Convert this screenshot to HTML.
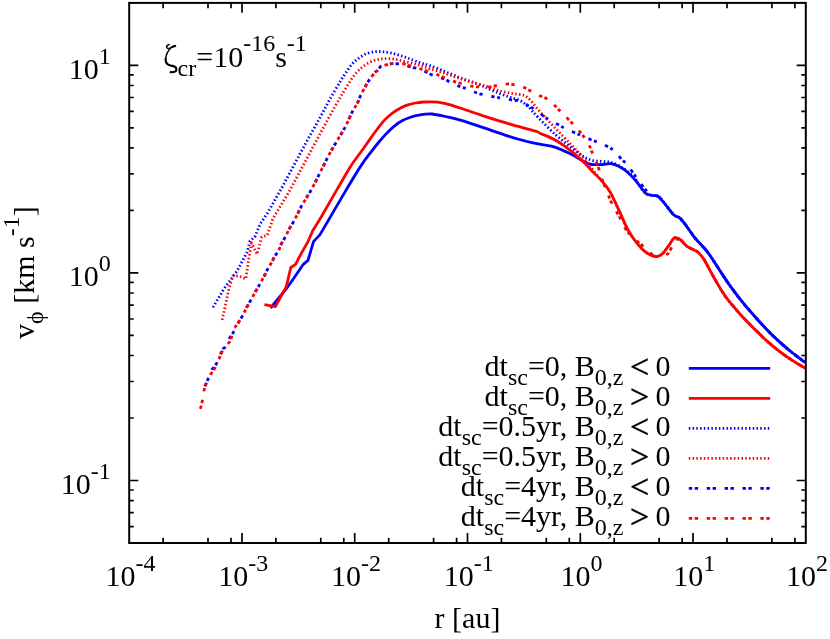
<!DOCTYPE html><html><head><meta charset="utf-8"><title>plot</title><style>html,body{margin:0;padding:0;background:#fff}svg{display:block;will-change:transform}text{font-family:"Liberation Serif",serif;fill:#000}</style></head><body>
<svg width="830" height="639" viewBox="0 0 830 639">
<rect width="830" height="639" fill="#fff"/>
<path d="M270.6,308.0L285.8,289.4L292.6,280.0L303.3,264.3L308.0,260.4L313.5,241.6L320.0,234.6L346.5,189.4C353.4,177.8 357.0,171.7 361.4,165.1C365.8,158.5 369.8,153.7 372.7,149.8C375.6,146.0 376.6,144.7 378.9,142.0C381.2,139.3 384.0,136.1 386.6,133.4C389.2,130.8 391.7,128.2 394.3,126.1C396.9,124.0 399.4,122.2 402.0,120.8C404.6,119.4 407.2,118.4 409.8,117.5C412.4,116.6 414.9,115.8 417.5,115.3C420.1,114.8 422.8,114.4 425.2,114.2C427.6,114.0 428.6,113.6 432.0,114.0C435.4,114.4 440.7,115.4 445.6,116.5C450.5,117.6 454.8,118.5 461.3,120.4C467.8,122.4 477.0,125.6 484.8,128.2C492.6,130.8 501.2,133.9 508.2,136.1C515.2,138.3 521.7,140.2 527.0,141.5C532.3,142.8 535.2,143.2 540.0,144.2C544.8,145.2 550.4,145.6 555.6,147.3C560.8,149.0 566.6,152.0 571.3,154.3C576.0,156.7 580.4,159.7 583.8,161.4C587.2,163.1 588.5,164.0 591.6,164.5C594.7,165.0 599.5,164.6 602.6,164.5C605.7,164.4 607.8,163.4 610.4,163.7C613.0,164.0 615.3,164.7 618.2,166.1C621.1,167.5 624.5,169.6 627.6,172.3C630.7,175.0 633.9,178.7 636.9,182.2C639.9,185.7 643.0,191.0 645.6,193.2C648.2,195.4 650.5,195.0 652.6,195.5C654.7,196.0 656.0,194.9 658.1,196.3C660.2,197.7 662.5,201.0 665.1,204.1C667.7,207.2 671.2,212.5 673.7,214.8C676.2,217.2 677.8,216.2 680.0,218.2C682.2,220.2 684.5,223.5 687.0,226.8C689.5,230.1 691.5,233.6 694.9,237.8C698.3,242.0 703.6,246.9 707.5,252.0C711.4,257.1 714.9,263.0 718.5,268.5C722.1,274.0 725.4,279.3 729.4,284.9C733.4,290.5 738.2,296.9 742.5,302.2C746.8,307.5 750.8,312.0 755.0,316.7C759.2,321.4 763.4,326.1 767.6,330.4C771.8,334.7 775.9,338.6 780.1,342.4C784.3,346.2 788.4,349.7 792.6,353.0C796.8,356.3 803.0,360.8 805.1,362.4" fill="none" stroke="#0000ff" stroke-width="2.8" stroke-linejoin="round"/>
<path d="M264.4,304.7L275.4,306.7L286.3,286.6L290.8,267.5L295.5,264.3L301.7,252.6L308.0,241.6L312.7,230.7L320.0,219.0L337.1,189.4C342.2,180.7 346.2,173.3 350.4,166.7C354.6,160.1 359.4,154.2 362.5,149.8C365.6,145.4 366.9,143.5 369.3,140.1C371.7,136.7 374.4,132.9 377.0,129.5C379.6,126.1 382.1,122.6 384.7,119.9C387.3,117.2 389.8,115.0 392.4,113.1C395.0,111.2 397.5,109.7 400.1,108.3C402.7,106.9 405.2,105.8 407.8,104.9C410.4,104.0 412.9,103.5 415.5,103.0C418.1,102.5 420.9,102.2 423.3,102.0C425.7,101.8 427.6,101.8 430.0,101.8C432.4,101.8 434.4,101.7 437.8,102.2C441.2,102.7 445.1,103.3 450.3,104.8C455.5,106.3 462.1,108.7 469.1,111.0C476.2,113.3 484.8,116.4 492.6,118.9C500.4,121.4 508.8,123.8 516.1,125.9C523.4,128.0 532.4,130.2 536.4,131.4C540.4,132.6 536.8,131.7 540.0,133.2C543.2,134.7 550.4,137.3 555.6,140.3C560.8,143.3 566.6,147.5 571.3,151.2C576.0,154.8 580.1,158.7 583.8,162.2C587.4,165.7 590.3,169.4 593.2,172.3C596.1,175.2 598.1,176.6 601.0,179.9C603.9,183.2 607.2,187.1 610.3,192.4C613.4,197.7 616.8,205.8 619.7,211.9C622.6,218.0 624.7,224.0 627.6,229.2C630.5,234.4 633.8,239.3 636.9,243.2C640.0,247.1 643.2,250.4 646.3,252.6C649.4,254.8 653.1,256.2 655.7,256.5C658.3,256.8 659.9,255.9 662.0,254.2C664.1,252.5 666.1,249.1 668.2,246.4C670.3,243.7 672.4,238.9 674.5,237.8C676.6,236.8 678.7,238.7 680.8,240.1C682.9,241.5 684.4,244.6 687.0,246.4C689.6,248.2 694.4,250.0 696.4,251.1C698.4,252.2 697.5,251.7 698.8,253.1C700.1,254.5 702.0,256.2 704.2,259.7C706.4,263.2 708.8,268.4 711.9,273.9C715.0,279.4 719.8,287.9 722.8,292.6C725.8,297.3 726.7,298.3 730.0,302.3C733.3,306.3 738.3,312.2 742.5,316.7C746.7,321.2 750.8,325.4 755.0,329.5C759.2,333.6 763.4,337.9 767.6,341.6C771.8,345.3 775.9,348.7 780.1,351.9C784.3,355.1 788.4,357.9 792.6,360.6C796.8,363.3 803.0,366.8 805.1,368.0" fill="none" stroke="#ff0000" stroke-width="2.8" stroke-linejoin="round"/>
<path d="M213.0,307.4L223.9,288.8L236.8,271.4L246.9,252.6L250.1,240.9L254.8,236.9L260.3,223.6L267.3,213.5L280.6,190.0L306.6,141.6L320.0,117.6L330.0,99.0C333.3,93.0 337.4,86.3 340.0,81.9C342.6,77.5 343.7,75.8 345.8,72.8C347.9,69.8 350.2,66.1 352.5,63.6C354.8,61.1 356.9,59.5 359.3,57.8C361.7,56.1 364.3,54.5 367.0,53.5C369.7,52.5 373.0,51.9 375.7,51.6C378.4,51.3 380.8,51.6 383.4,51.8C386.0,52.0 388.4,52.4 391.1,53.0C393.8,53.6 396.9,54.5 399.8,55.4C402.7,56.3 405.0,57.1 408.4,58.3C411.8,59.5 416.4,61.5 420.0,62.7C423.6,63.9 425.7,64.1 430.0,65.6C434.3,67.1 440.4,69.8 445.6,71.9C450.8,74.0 456.1,76.2 461.3,78.2C466.5,80.2 472.2,81.8 476.9,83.6C481.6,85.4 485.6,87.4 489.5,89.1C493.4,90.8 496.8,92.4 500.4,93.8C504.0,95.2 508.0,96.5 511.4,97.7C514.8,98.9 517.9,99.3 520.8,100.9C523.7,102.5 525.7,104.4 528.6,107.1C531.5,109.8 533.5,112.7 538.0,117.3C542.5,121.9 550.1,129.8 555.6,134.8C561.1,139.8 566.6,143.7 571.3,147.3C576.0,151.0 580.1,154.5 583.8,156.7C587.4,158.9 590.1,159.8 593.2,160.6C596.3,161.4 599.7,161.1 602.6,161.4C605.5,161.7 607.8,161.5 610.4,162.2C613.0,162.8 615.3,163.8 618.2,165.3C621.1,166.9 624.7,169.3 627.6,171.5C630.5,173.7 634.0,176.8 635.5,178.6C637.0,180.4 635.2,179.8 636.9,182.2C638.6,184.6 643.0,191.0 645.6,193.2C648.2,195.4 650.5,195.0 652.6,195.5C654.7,196.0 656.0,194.9 658.1,196.3C660.2,197.7 662.5,201.0 665.1,204.1C667.7,207.2 671.2,212.5 673.7,214.8C676.2,217.2 677.8,216.2 680.0,218.2C682.2,220.2 684.5,223.5 687.0,226.8C689.5,230.1 691.5,233.6 694.9,237.8C698.3,242.0 703.6,246.9 707.5,252.0C711.4,257.1 714.9,263.0 718.5,268.5C722.1,274.0 725.4,279.3 729.4,284.9C733.4,290.5 738.2,296.9 742.5,302.2C746.8,307.5 750.8,312.0 755.0,316.7C759.2,321.4 763.4,326.1 767.6,330.4C771.8,334.7 775.9,338.6 780.1,342.4C784.3,346.2 788.4,349.7 792.6,353.0C796.8,356.3 803.0,360.8 805.1,362.4" fill="none" stroke="#0000ff" stroke-width="2.8" stroke-linejoin="round" stroke-dasharray="1.5,2.26"/>
<path d="M222.2,320.0L226.1,301.9L229.0,288.6L232.9,275.8L239.1,276.1L245.9,278.9L248.5,260.4L251.6,243.2L257.1,254.2L261.8,236.9L267.3,235.4L272.8,219.0L290.0,190.0L317.6,138.5L330.0,115.5C333.7,108.7 337.4,102.3 340.0,97.8C342.6,93.2 343.9,91.3 345.8,88.2C347.7,85.1 349.7,81.7 351.6,79.0C353.5,76.3 355.4,73.9 357.3,71.8C359.2,69.7 361.0,68.1 363.1,66.5C365.2,64.9 367.6,63.3 369.9,62.2C372.1,61.1 374.4,60.4 376.6,59.8C378.9,59.2 381.0,59.0 383.4,58.8C385.8,58.6 388.7,58.6 391.1,58.8C393.5,59.0 395.4,59.3 397.8,59.8C400.2,60.3 402.9,61.1 405.5,61.7C408.1,62.3 410.9,63.0 413.3,63.6C415.7,64.2 417.2,64.6 420.0,65.5C422.8,66.4 425.7,67.5 430.0,68.8C434.3,70.1 440.4,71.8 445.6,73.5C450.8,75.2 456.1,77.3 461.3,79.0C466.5,80.7 472.2,82.2 476.9,83.6C481.6,85.0 485.6,86.0 489.5,87.2C493.4,88.4 496.5,90.0 500.4,91.0C504.3,92.0 509.0,92.8 512.9,93.5C516.8,94.2 521.0,94.3 523.9,95.4C526.8,96.5 527.9,97.8 530.2,100.1C532.6,102.4 533.8,104.8 538.0,109.5C542.2,114.2 550.1,122.6 555.6,128.5C561.1,134.4 566.8,140.2 571.3,144.9C575.8,149.6 579.2,153.2 582.3,156.7C585.4,160.2 587.2,162.4 590.1,166.1C593.0,169.8 597.7,176.3 599.5,178.6C601.3,180.9 599.2,177.6 601.0,179.9C602.8,182.2 607.2,187.1 610.3,192.4C613.4,197.7 616.8,205.8 619.7,211.9C622.6,218.0 624.7,224.0 627.6,229.2C630.5,234.4 633.8,239.3 636.9,243.2C640.0,247.1 643.2,250.4 646.3,252.6C649.4,254.8 653.1,256.2 655.7,256.5C658.3,256.8 659.9,255.9 662.0,254.2C664.1,252.5 666.1,249.1 668.2,246.4C670.3,243.7 672.4,238.9 674.5,237.8C676.6,236.8 678.7,238.7 680.8,240.1C682.9,241.5 684.4,244.6 687.0,246.4C689.6,248.2 694.4,250.0 696.4,251.1C698.4,252.2 697.5,251.7 698.8,253.1C700.1,254.5 702.0,256.2 704.2,259.7C706.4,263.2 708.8,268.4 711.9,273.9C715.0,279.4 719.8,287.9 722.8,292.6C725.8,297.3 726.7,298.3 730.0,302.3C733.3,306.3 738.3,312.2 742.5,316.7C746.7,321.2 750.8,325.4 755.0,329.5C759.2,333.6 763.4,337.9 767.6,341.6C771.8,345.3 775.9,348.7 780.1,351.9C784.3,355.1 788.4,357.9 792.6,360.6C796.8,363.3 803.0,366.8 805.1,368.0" fill="none" stroke="#ff0000" stroke-width="2.8" stroke-linejoin="round" stroke-dasharray="1.5,2.26"/>
<path d="M204.9,386.4L207.6,380.1L212.1,369.3L216.2,364.2L222.9,348.9L224.7,347.7L229.2,338.7L232.8,333.3L238.2,323.0L241.8,317.1L247.2,306.3L250.2,301.2L255.0,292.6L260.0,283.8L263.8,276.9L267.5,269.4L271.9,261.9L275.0,255.6L278.2,251.9L281.4,243.6L285.3,236.9L290.0,227.6L293.9,221.3L301.7,205.6L312.1,188.6L326.9,158.9C330.8,151.3 332.6,148.4 335.6,143.2C338.6,138.0 342.1,132.8 344.9,127.6C347.7,122.3 350.3,115.7 352.4,111.7C354.4,107.7 355.8,106.2 357.2,103.5C358.6,100.8 359.2,98.4 360.7,95.4C362.2,92.4 364.5,88.0 366.0,85.3C367.5,82.6 368.4,81.2 369.9,79.0C371.4,76.8 373.9,73.7 375.2,72.3C376.5,70.9 376.6,71.4 377.6,70.4C378.6,69.4 379.9,67.0 381.0,66.2C382.1,65.4 382.8,65.9 384.3,65.5C385.8,65.1 388.7,64.2 390.1,63.9C391.6,63.6 391.6,63.6 393.0,63.6C394.4,63.6 397.0,63.8 398.8,63.9C400.6,64.0 402.1,64.0 404.0,64.5C405.9,65.0 408.4,66.4 410.4,67.0C412.4,67.6 413.8,67.5 416.1,68.2C418.4,68.9 421.3,69.9 424.0,71.0C426.7,72.1 428.9,73.7 432.3,75.0C435.7,76.3 441.2,77.9 444.1,79.0C447.0,80.1 446.9,80.5 449.6,81.8C452.3,83.1 457.6,85.6 460.5,86.8C463.4,88.0 464.1,87.7 466.8,88.7C469.5,89.7 474.2,92.0 476.9,93.0C479.6,94.0 480.2,93.9 483.2,94.6C486.2,95.3 491.9,96.4 494.9,97.0C497.9,97.6 498.3,97.5 501.2,98.0C504.1,98.5 509.2,99.6 512.2,100.1C515.2,100.6 516.3,99.9 519.2,100.9C522.1,101.9 526.8,104.9 529.4,106.3C532.0,107.7 532.4,107.8 534.9,109.5C537.4,111.2 541.8,114.8 544.2,116.5C546.6,118.2 546.8,118.4 549.4,119.9C552.0,121.4 557.0,124.0 559.6,125.4C562.2,126.8 562.3,127.2 565.0,128.5C567.7,129.8 573.2,132.0 576.0,133.2C578.8,134.4 578.8,134.4 581.5,135.6C584.2,136.8 589.5,139.1 592.4,140.3C595.3,141.5 596.0,141.4 598.7,142.6C601.5,143.8 606.3,145.9 608.9,147.3C611.5,148.7 612.1,149.1 614.3,151.2C616.5,153.3 620.1,157.6 622.2,159.8C624.3,162.0 625.0,162.2 626.9,164.5C628.8,166.8 632.2,171.6 633.9,173.9C635.6,176.2 635.2,176.2 637.0,178.6C638.8,181.0 642.6,186.2 644.5,188.5C646.4,190.8 646.9,191.4 648.2,192.6C649.6,193.8 651.0,194.9 652.6,195.5C654.2,196.1 656.0,194.9 658.1,196.3C660.2,197.7 662.5,201.0 665.1,204.1C667.7,207.2 671.2,212.5 673.7,214.8C676.2,217.2 677.8,216.2 680.0,218.2C682.2,220.2 684.5,223.5 687.0,226.8C689.5,230.1 691.5,233.6 694.9,237.8C698.3,242.0 703.6,246.9 707.5,252.0C711.4,257.1 714.9,263.0 718.5,268.5C722.1,274.0 725.4,279.3 729.4,284.9C733.4,290.5 738.2,296.9 742.5,302.2C746.8,307.5 750.8,312.0 755.0,316.7C759.2,321.4 763.4,326.1 767.6,330.4C771.8,334.7 775.9,338.6 780.1,342.4C784.3,346.2 788.4,349.7 792.6,353.0C796.8,356.3 803.0,360.8 805.1,362.4" fill="none" stroke="#0000ff" stroke-width="2.8" stroke-linejoin="round" stroke-dasharray="3.4,2.5,3.4,8.6"/>
<path d="M200.4,408.9L202.2,401.7L204.0,390.9L204.9,386.4L210.3,374.7L213.9,370.2L219.3,358.5L221.1,353.1L226.5,345.3L230.1,341.4L232.8,333.3L233.7,328.8L237.3,324.3L243.6,313.5L250.2,301.2L255.0,292.6L260.0,283.8L263.8,276.9L267.5,269.4L271.9,261.9L275.0,255.6L278.2,251.9L281.4,243.6L285.3,236.9L290.0,227.6L293.9,221.3L301.7,205.6L312.1,188.6L326.9,158.9C330.8,151.3 332.6,148.4 335.6,143.2C338.6,138.0 342.1,132.8 344.9,127.6C347.7,122.3 350.3,115.7 352.4,111.7C354.4,107.7 355.8,106.2 357.2,103.5C358.6,100.8 359.2,98.4 360.7,95.4C362.2,92.4 364.5,88.0 366.0,85.3C367.5,82.6 368.4,81.2 369.9,79.0C371.4,76.8 373.9,73.7 375.2,72.3C376.5,70.9 376.6,71.4 377.6,70.4C378.6,69.4 379.9,67.0 381.0,66.2C382.1,65.4 382.8,65.9 384.3,65.5C385.8,65.1 388.7,64.2 390.1,63.9C391.6,63.6 391.1,63.6 393.0,63.6C394.9,63.6 399.3,63.4 401.7,63.6C404.1,63.8 405.6,64.4 407.5,64.9C409.4,65.4 411.1,66.2 413.0,66.8C414.9,67.4 416.5,67.6 419.0,68.4C421.5,69.2 425.1,70.5 428.0,71.5C430.9,72.5 434.0,73.5 436.3,74.3C438.6,75.1 439.0,75.5 441.7,76.6C444.4,77.7 449.8,80.0 452.7,81.0C455.6,82.0 456.1,82.1 459.0,82.9C461.9,83.7 467.0,85.1 469.9,85.7C472.8,86.3 473.2,86.6 476.2,86.8C479.2,87.0 484.9,87.2 487.9,87.1C490.9,87.0 491.2,86.5 494.2,86.0C497.2,85.5 502.9,84.4 505.9,84.1C508.9,83.8 509.3,83.9 512.2,84.4C515.1,84.9 520.4,86.2 523.1,87.1C525.8,88.0 526.0,88.5 528.6,89.9C531.2,91.3 536.0,94.1 538.8,95.4C541.6,96.8 543.0,96.4 545.5,98.0C548.0,99.6 551.9,103.0 554.1,105.0C556.3,107.0 556.7,107.6 558.8,109.7C560.9,111.8 564.5,115.5 566.6,117.6C568.7,119.7 569.2,120.1 571.3,122.3C573.4,124.5 577.1,128.7 579.1,130.9C581.1,133.1 581.3,133.1 583.0,135.6C584.7,138.1 587.9,143.1 589.3,145.7C590.7,148.3 590.4,148.4 591.6,151.2C592.8,153.9 595.1,159.3 596.3,162.2C597.5,165.1 597.8,165.7 598.7,168.4C599.6,171.1 600.1,173.9 601.8,178.6C603.5,183.2 607.2,192.4 608.8,196.3C610.3,200.2 609.8,199.2 611.1,201.8C612.4,204.4 615.2,209.3 616.6,211.9C618.0,214.5 618.0,214.2 619.7,217.4C621.4,220.6 624.0,226.9 627.0,231.0C630.0,235.1 635.1,239.3 637.7,241.7C640.3,244.1 640.2,243.6 642.4,245.6C644.6,247.6 648.5,251.9 651.0,253.7C653.5,255.5 654.9,256.5 657.5,256.6C660.1,256.7 664.6,255.6 666.7,254.5C668.8,253.4 668.6,252.7 670.1,250.3C671.6,247.9 674.0,241.9 675.8,240.2C677.6,238.5 678.9,239.1 680.8,240.1C682.7,241.1 684.4,244.6 687.0,246.4C689.6,248.2 694.4,250.0 696.4,251.1C698.4,252.2 697.5,251.7 698.8,253.1C700.1,254.5 702.0,256.2 704.2,259.7C706.4,263.2 708.8,268.4 711.9,273.9C715.0,279.4 719.8,287.9 722.8,292.6C725.8,297.3 726.7,298.3 730.0,302.3C733.3,306.3 738.3,312.2 742.5,316.7C746.7,321.2 750.8,325.4 755.0,329.5C759.2,333.6 763.4,337.9 767.6,341.6C771.8,345.3 775.9,348.7 780.1,351.9C784.3,355.1 788.4,357.9 792.6,360.6C796.8,363.3 803.0,366.8 805.1,368.0" fill="none" stroke="#ff0000" stroke-width="2.8" stroke-linejoin="round" stroke-dasharray="3.4,2.5,3.4,8.6"/>
<line x1="688.8" y1="368.4" x2="770.2" y2="368.4" stroke="#0000ff" stroke-width="2.8"/>
<text x="670.5" y="375.7" text-anchor="end" font-size="30">dt<tspan font-size="24" dy="9.4">sc</tspan><tspan dy="-9.4">=0, B</tspan><tspan font-size="24" dy="9.4">0,z</tspan><tspan dy="-9.4" dx="-1.1"> </tspan><tspan font-size="34" dy="2.5" stroke="#000" stroke-width="0.45">&lt;</tspan><tspan dy="-2.5" dx="-1.1"> 0</tspan></text>
<line x1="688.8" y1="398.4" x2="770.2" y2="398.4" stroke="#ff0000" stroke-width="2.8"/>
<text x="670.5" y="405.7" text-anchor="end" font-size="30">dt<tspan font-size="24" dy="9.4">sc</tspan><tspan dy="-9.4">=0, B</tspan><tspan font-size="24" dy="9.4">0,z</tspan><tspan dy="-9.4" dx="-1.1"> </tspan><tspan font-size="34" dy="2.5" stroke="#000" stroke-width="0.45">&gt;</tspan><tspan dy="-2.5" dx="-1.1"> 0</tspan></text>
<line x1="688.8" y1="428.4" x2="770.2" y2="428.4" stroke="#0000ff" stroke-width="2.8" stroke-dasharray="1.5,2.26"/>
<text x="670.5" y="435.7" text-anchor="end" font-size="30">dt<tspan font-size="24" dy="9.4">sc</tspan><tspan dy="-9.4">=0.5yr, B</tspan><tspan font-size="24" dy="9.4">0,z</tspan><tspan dy="-9.4" dx="-1.1"> </tspan><tspan font-size="34" dy="2.5" stroke="#000" stroke-width="0.45">&lt;</tspan><tspan dy="-2.5" dx="-1.1"> 0</tspan></text>
<line x1="688.8" y1="458.4" x2="770.2" y2="458.4" stroke="#ff0000" stroke-width="2.8" stroke-dasharray="1.5,2.26"/>
<text x="670.5" y="465.7" text-anchor="end" font-size="30">dt<tspan font-size="24" dy="9.4">sc</tspan><tspan dy="-9.4">=0.5yr, B</tspan><tspan font-size="24" dy="9.4">0,z</tspan><tspan dy="-9.4" dx="-1.1"> </tspan><tspan font-size="34" dy="2.5" stroke="#000" stroke-width="0.45">&gt;</tspan><tspan dy="-2.5" dx="-1.1"> 0</tspan></text>
<line x1="688.8" y1="488.4" x2="770.2" y2="488.4" stroke="#0000ff" stroke-width="2.8" stroke-dasharray="3.4,2.5,3.4,8.6"/>
<text x="670.5" y="495.7" text-anchor="end" font-size="30">dt<tspan font-size="24" dy="9.4">sc</tspan><tspan dy="-9.4">=4yr, B</tspan><tspan font-size="24" dy="9.4">0,z</tspan><tspan dy="-9.4" dx="-1.1"> </tspan><tspan font-size="34" dy="2.5" stroke="#000" stroke-width="0.45">&lt;</tspan><tspan dy="-2.5" dx="-1.1"> 0</tspan></text>
<line x1="688.8" y1="518.4" x2="770.2" y2="518.4" stroke="#ff0000" stroke-width="2.8" stroke-dasharray="3.4,2.5,3.4,8.6"/>
<text x="670.5" y="525.7" text-anchor="end" font-size="30">dt<tspan font-size="24" dy="9.4">sc</tspan><tspan dy="-9.4">=4yr, B</tspan><tspan font-size="24" dy="9.4">0,z</tspan><tspan dy="-9.4" dx="-1.1"> </tspan><tspan font-size="34" dy="2.5" stroke="#000" stroke-width="0.45">&gt;</tspan><tspan dy="-2.5" dx="-1.1"> 0</tspan></text>
<rect x="129.2" y="2.9" width="676.6" height="540.1" fill="none" stroke="#000" stroke-width="2.0"/>
<path d="M163.1,543.0L163.1,537.7M163.1,2.9L163.1,8.2M208.0,543.0L208.0,537.7M208.0,2.9L208.0,8.2M231.0,543.0L231.0,537.7M231.0,2.9L231.0,8.2M242.0,543.0L242.0,533.0M242.0,2.9L242.0,12.8M275.9,543.0L275.9,537.7M275.9,2.9L275.9,8.2M320.8,543.0L320.8,537.7M320.8,2.9L320.8,8.2M343.8,543.0L343.8,537.7M343.8,2.9L343.8,8.2M354.7,543.0L354.7,533.0M354.7,2.9L354.7,12.8M388.7,543.0L388.7,537.7M388.7,2.9L388.7,8.2M433.6,543.0L433.6,537.7M433.6,2.9L433.6,8.2M456.6,543.0L456.6,537.7M456.6,2.9L456.6,8.2M467.5,543.0L467.5,533.0M467.5,2.9L467.5,12.8M501.4,543.0L501.4,537.7M501.4,2.9L501.4,8.2M546.3,543.0L546.3,537.7M546.3,2.9L546.3,8.2M569.3,543.0L569.3,537.7M569.3,2.9L569.3,8.2M580.3,543.0L580.3,533.0M580.3,2.9L580.3,12.8M614.2,543.0L614.2,537.7M614.2,2.9L614.2,8.2M659.1,543.0L659.1,537.7M659.1,2.9L659.1,8.2M682.1,543.0L682.1,537.7M682.1,2.9L682.1,8.2M693.0,543.0L693.0,533.0M693.0,2.9L693.0,12.8M727.0,543.0L727.0,537.7M727.0,2.9L727.0,8.2M771.9,543.0L771.9,537.7M771.9,2.9L771.9,8.2M794.9,543.0L794.9,537.7M794.9,2.9L794.9,8.2M129.2,526.6L133.7,526.6M805.8,526.6L801.3,526.6M129.2,512.7L133.7,512.7M805.8,512.7L801.3,512.7M129.2,500.6L133.7,500.6M805.8,500.6L801.3,500.6M129.2,490.0L133.7,490.0M805.8,490.0L801.3,490.0M129.2,480.5L138.3,480.5M805.8,480.5L796.7,480.5M129.2,418.0L133.7,418.0M805.8,418.0L801.3,418.0M129.2,381.5L133.7,381.5M805.8,381.5L801.3,381.5M129.2,355.5L133.7,355.5M805.8,355.5L801.3,355.5M129.2,335.4L133.7,335.4M805.8,335.4L801.3,335.4M129.2,319.0L133.7,319.0M805.8,319.0L801.3,319.0M129.2,305.1L133.7,305.1M805.8,305.1L801.3,305.1M129.2,293.0L133.7,293.0M805.8,293.0L801.3,293.0M129.2,282.4L133.7,282.4M805.8,282.4L801.3,282.4M129.2,272.9L138.3,272.9M805.8,272.9L796.7,272.9M129.2,210.4L133.7,210.4M805.8,210.4L801.3,210.4M129.2,173.9L133.7,173.9M805.8,173.9L801.3,173.9M129.2,147.9L133.7,147.9M805.8,147.9L801.3,147.9M129.2,127.8L133.7,127.8M805.8,127.8L801.3,127.8M129.2,111.4L133.7,111.4M805.8,111.4L801.3,111.4M129.2,97.5L133.7,97.5M805.8,97.5L801.3,97.5M129.2,85.5L133.7,85.5M805.8,85.5L801.3,85.5M129.2,74.8L133.7,74.8M805.8,74.8L801.3,74.8M129.2,65.3L138.3,65.3M805.8,65.3L796.7,65.3" stroke="#000" stroke-width="1.7" fill="none"/>
<text x="130.4" y="586.2" text-anchor="middle" font-size="30">10<tspan font-size="24" dy="-15.1">-4</tspan></text>
<text x="243.2" y="586.2" text-anchor="middle" font-size="30">10<tspan font-size="24" dy="-15.1">-3</tspan></text>
<text x="355.9" y="586.2" text-anchor="middle" font-size="30">10<tspan font-size="24" dy="-15.1">-2</tspan></text>
<text x="468.7" y="586.2" text-anchor="middle" font-size="30">10<tspan font-size="24" dy="-15.1">-1</tspan></text>
<text x="581.5" y="586.2" text-anchor="middle" font-size="30">10<tspan font-size="24" dy="-15.1">0</tspan></text>
<text x="694.2" y="586.2" text-anchor="middle" font-size="30">10<tspan font-size="24" dy="-15.1">1</tspan></text>
<text x="807.0" y="586.2" text-anchor="middle" font-size="30">10<tspan font-size="24" dy="-15.1">2</tspan></text>
<text x="110.8" y="493.7" text-anchor="end" font-size="30">10<tspan font-size="24" dy="-14.7">-1</tspan></text>
<text x="110.8" y="286.1" text-anchor="end" font-size="30">10<tspan font-size="24" dy="-14.7">0</tspan></text>
<text x="110.8" y="78.5" text-anchor="end" font-size="30">10<tspan font-size="24" dy="-14.7">1</tspan></text>
<text x="467.5" y="627.5" text-anchor="middle" font-size="30">r [au]</text>
<text transform="translate(34.3,272.6) rotate(-90)" text-anchor="middle" font-size="30">v<tspan font-size="24" dy="8.5">ϕ</tspan><tspan dy="-8.5"> [km s</tspan><tspan font-size="24" dy="-15">-1</tspan><tspan dy="15">]</tspan></text>
<g fill="none" stroke="#000" stroke-linecap="round" stroke-linejoin="round"><path d="M169.2,44.5 Q166.2,45.4 166.6,47.1 Q167.1,48.7 168.9,48.4" stroke-width="1.5"/><path d="M168.9,48.5 L172.2,47" stroke-width="1.3"/><path d="M172,47 L175.2,45.9" stroke-width="2.2"/><path d="M170.8,48 C167.8,51 165.9,55 165.6,59" stroke-width="1.5"/><path d="M165.6,59 C165.4,62.5 166.8,65 171,65.6 C174.5,66 176.6,67.8 176.4,69.8 C176.2,71.8 173.5,72.5 170.6,72.1" stroke-width="2.1"/></g>
<text x="177.6" y="75.8" font-size="24">cr<tspan font-size="30" dy="-9">=10</tspan><tspan font-size="24" dy="-15.6">-16</tspan><tspan font-size="30" dy="15.6">s</tspan><tspan font-size="24" dy="-15.6">-1</tspan></text>
</svg></body></html>
